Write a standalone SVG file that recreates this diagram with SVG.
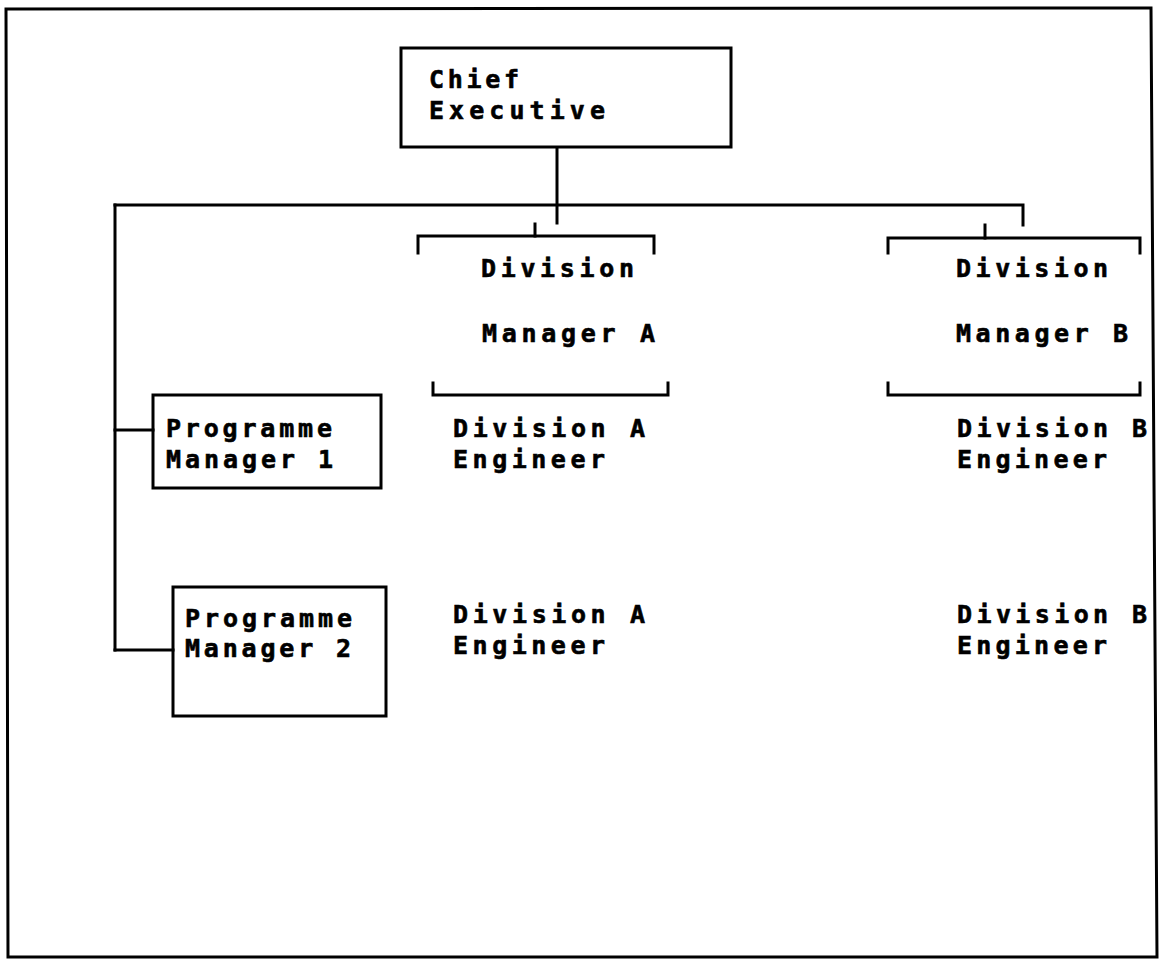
<svg xmlns="http://www.w3.org/2000/svg" width="1164" height="960" viewBox="0 0 1164 960">
<style>
.box{fill:none;stroke:#000;stroke-width:3;stroke-linejoin:miter}
.ln{fill:none;stroke:#000;stroke-width:3;stroke-linecap:square}
.t{font-family:"DejaVu Sans Mono","Liberation Mono",monospace;font-weight:bold;font-size:25px;fill:#000;stroke:#000;stroke-width:0.6}
</style>
<rect width="1164" height="960" fill="#fff"/>
<g id="frame"><path class="box" d="M6,9 L1151,8 L1157,957 L8,957 Z"/></g>
<g id="connectors">
<path class="ln" d="M557,148 V223"/>
<path class="ln" d="M115,205 H1023 V225"/>
<path class="ln" d="M115,205 V650"/>
<path class="ln" d="M115,430 H153"/>
<path class="ln" d="M115,650 H173"/>
<path class="ln" d="M535,224 V236"/>
<path class="ln" d="M985,225 V238"/>
</g>
<g id="chief-executive">
<rect class="box" x="401" y="48" width="330" height="99"/>
<text class="t" x="429" y="88" textLength="90" lengthAdjust="spacing">Chief</text>
<text class="t" x="429" y="119" textLength="176" lengthAdjust="spacing">Executive</text>
</g>
<g id="division-manager-a">
<path class="ln" d="M418,253 V236 H654 V253"/>
<path class="ln" d="M433,383 V395 H668 V383"/>
<text class="t" x="481" y="277" textLength="153" lengthAdjust="spacing">Division</text>
<text class="t" x="482" y="342" textLength="173" lengthAdjust="spacing">Manager A</text>
</g>
<g id="division-manager-b">
<path class="ln" d="M888,253 V238 H1140 V253"/>
<path class="ln" d="M888,383 V395 H1140 V383"/>
<text class="t" x="956" y="277" textLength="152" lengthAdjust="spacing">Division</text>
<text class="t" x="956" y="342" textLength="172" lengthAdjust="spacing">Manager B</text>
</g>
<g id="programme-manager-1">
<rect class="box" x="153" y="395" width="228" height="93"/>
<text class="t" x="166" y="437" textLength="166" lengthAdjust="spacing">Programme</text>
<text class="t" x="166" y="468" textLength="167" lengthAdjust="spacing">Manager 1</text>
</g>
<g id="programme-manager-2">
<rect class="box" x="173" y="587" width="213" height="129"/>
<text class="t" x="185" y="627" textLength="167" lengthAdjust="spacing">Programme</text>
<text class="t" x="185" y="657" textLength="166" lengthAdjust="spacing">Manager 2</text>
</g>
<g id="division-a-engineer-1">
<text class="t" x="453" y="437" textLength="192" lengthAdjust="spacing">Division A</text>
<text class="t" x="453" y="468" textLength="152" lengthAdjust="spacing">Engineer</text>
</g>
<g id="division-b-engineer-1">
<text class="t" x="957" y="437" textLength="190" lengthAdjust="spacing">Division B</text>
<text class="t" x="957" y="468" textLength="150" lengthAdjust="spacing">Engineer</text>
</g>
<g id="division-a-engineer-2">
<text class="t" x="453" y="623" textLength="192" lengthAdjust="spacing">Division A</text>
<text class="t" x="453" y="654" textLength="152" lengthAdjust="spacing">Engineer</text>
</g>
<g id="division-b-engineer-2">
<text class="t" x="957" y="623" textLength="190" lengthAdjust="spacing">Division B</text>
<text class="t" x="957" y="654" textLength="150" lengthAdjust="spacing">Engineer</text>
</g>
</svg>
